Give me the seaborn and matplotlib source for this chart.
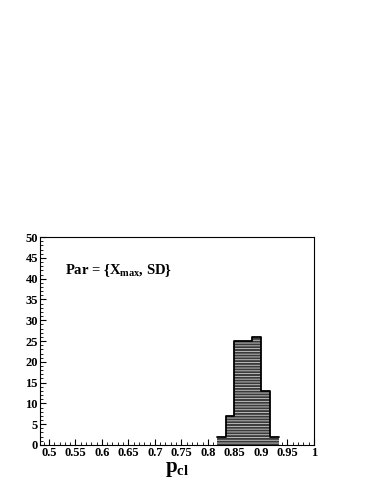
import numpy as np
import pandas as pd
import matplotlib
matplotlib.use("Agg")
import matplotlib.pyplot as plt
import seaborn as sns
from matplotlib.ticker import MultipleLocator

sns.set_style("white")
plt.rcParams['font.family'] = ['Liberation Serif', 'DejaVu Serif']
plt.rcParams['font.weight'] = 'bold'
plt.rcParams['text.color'] = 'black'
plt.rcParams['axes.labelcolor'] = 'black'
plt.rcParams['xtick.color'] = 'black'
plt.rcParams['ytick.color'] = 'black'
plt.rcParams['mathtext.fontset'] = 'custom'
plt.rcParams['mathtext.rm'] = 'Liberation Serif:bold'
plt.rcParams['mathtext.it'] = 'Liberation Serif:bold'
plt.rcParams['mathtext.bf'] = 'Liberation Serif:bold'
plt.rcParams['hatch.linewidth'] = 0.6

# histogram data
bin_edges = [0.8167, 0.8333, 0.85, 0.8667, 0.8833, 0.9, 0.9167, 0.9333]
bin_counts = [2, 7, 25, 25, 26, 13, 2]
x_ticks = [0.5, 0.55, 0.6, 0.65, 0.7, 0.75, 0.8, 0.85, 0.9, 0.95, 1.0]
x_tick_labels = ['0.5', '0.55', '0.6', '0.65', '0.7', '0.75', '0.8',
                 '0.85', '0.9', '0.95', '1']
y_ticks = [0, 5, 10, 15, 20, 25, 30, 35, 40, 45, 50]

centers = [(a + b) / 2 for a, b in zip(bin_edges[:-1], bin_edges[1:])]
df = pd.DataFrame({'p_cl': centers, 'n': bin_counts})

fig = plt.figure(figsize=(3.71, 4.80), dpi=100)
ax = fig.add_axes([0.108, 0.073, 0.738, 0.433])

# dark fill
sns.histplot(data=df, x='p_cl', weights='n', bins=bin_edges, element='step',
             fill=True, color='#3a3a3a', alpha=1, linewidth=0, ax=ax)
# light dotted hatch on top
sns.histplot(data=df, x='p_cl', weights='n', bins=bin_edges, element='step',
             fill=True, color='#d0d0d0', alpha=1, linewidth=0, ax=ax)
hatch = ax.collections[-1]
hatch.set_facecolor('none')
hatch.set_edgecolor('#d0d0d0')
hatch.set_hatch('------')
# black outline
sns.histplot(data=df, x='p_cl', weights='n', bins=bin_edges, element='step',
             fill=False, color='black', linewidth=1.3, ax=ax)

ax.set_xlim(0.48333, 1.0)
ax.set_ylim(0, 50)
ax.set_xticks(x_ticks)
ax.set_xticklabels(x_tick_labels)
ax.set_yticks(y_ticks)
ax.xaxis.set_minor_locator(MultipleLocator(0.01))
ax.yaxis.set_minor_locator(MultipleLocator(1))
ax.tick_params(axis='both', which='major', direction='in', length=4.5,
               width=0.8, labelsize=9, pad=1.5, bottom=True, left=True,
               top=False, right=False)
ax.tick_params(axis='both', which='minor', direction='in', length=2.3,
               width=0.6, bottom=True, left=True, top=False, right=False)
for lab in ax.get_xticklabels() + ax.get_yticklabels():
    lab.set_fontweight('bold')
for sp in ax.spines.values():
    sp.set_color('black')
    sp.set_linewidth(0.8)

ax.set_ylabel('')
ax.set_xlabel(r'p$_{\mathregular{cl}}$', fontsize=15, fontweight='bold',
              labelpad=0)
ax.text(0.09, 0.84, r'Par = {X$_{\mathregular{max}}$, SD}', transform=ax.transAxes,
        fontsize=10.5, fontweight='bold', ha='left', va='center')

fig.savefig('out.png', dpi=100)
